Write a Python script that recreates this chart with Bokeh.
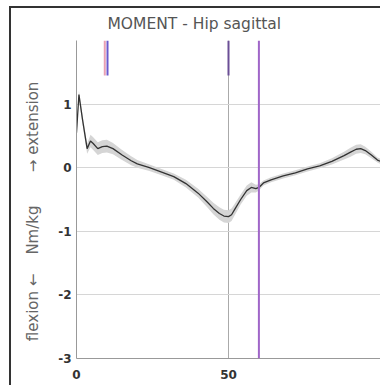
from bokeh.plotting import figure
from bokeh.models import Span, FixedTicker, ColumnDataSource
from bokeh.embed import file_html
from bokeh.resources import INLINE

# Gait cycle (%) and mean hip sagittal moment (Nm/kg) with its spread
pct = [0, 0.8, 2, 3.5, 4.6, 5.5, 7, 8.5, 10, 12, 15, 18, 20, 24, 28, 32, 36, 40,
       43, 45, 47, 48.5, 50, 51, 52, 54, 56, 57.5, 59, 60, 61.5, 64, 68, 72, 76,
       80, 84, 88, 90, 92, 93.5, 95, 97, 99, 100]
moment = [0.55, 1.15, 0.75, 0.30, 0.42, 0.38, 0.30, 0.33, 0.34, 0.30, 0.20, 0.11,
          0.06, 0.00, -0.07, -0.14, -0.25, -0.40, -0.54, -0.64, -0.72, -0.76, -0.77,
          -0.74, -0.66, -0.50, -0.36, -0.31, -0.33, -0.31, -0.24, -0.19, -0.13,
          -0.08, -0.02, 0.03, 0.10, 0.19, 0.24, 0.29, 0.30, 0.27, 0.20, 0.12, 0.10]
spread = [0.05, 0.06, 0.08, 0.08, 0.10, 0.10, 0.10, 0.10, 0.10, 0.09, 0.08, 0.07,
          0.06, 0.05, 0.05, 0.05, 0.06, 0.07, 0.08, 0.09, 0.10, 0.10, 0.10, 0.10,
          0.09, 0.08, 0.08, 0.08, 0.06, 0.05, 0.04, 0.04, 0.04, 0.04, 0.04, 0.04,
          0.05, 0.06, 0.07, 0.07, 0.07, 0.06, 0.05, 0.04, 0.04]

# Gait event markers: (percent, colour, full height?)
event_pct = [9.3, 10.2, 50, 60]
event_color = ["#e8a0b4", "#6a5acd", "#6b4f96", "#a066c8"]
event_full = [False, False, False, True]

x_ticks = [0, 50, 100]
x_tick_labels = ["0", "50", ""]
y_ticks = [-3, -2, -1, 0, 1]
y_tick_labels = ["-3", "-2", "-1", "0", "1"]

src = ColumnDataSource(dict(
    x=pct, y=moment,
    lo=[m - s for m, s in zip(moment, spread)],
    hi=[m + s for m, s in zip(moment, spread)],
))

p = figure(width=371, height=379, x_range=(0, 100), y_range=(-3, 2),
           output_backend="svg", toolbar_location=None,
           min_border_left=65, min_border_right=2, min_border_top=32,
           min_border_bottom=29)
p.margin = (6, 0, 0, 9)
p.styles = {"border-left": "2px solid #333", "border-top": "2px solid #333"}

p.title.text = "MOMENT - Hip sagittal"
p.title.text_font = "DejaVu Sans"
p.title.text_font_size = "15.5px"
p.title.text_font_style = "normal"
p.title.text_color = "#555555"
p.title.align = "left"
p.title.offset = 31
p.title.standoff = 12
p.title.vertical_align = "top"

p.outline_line_color = None
p.background_fill_color = "white"
p.border_fill_color = "white"

p.xaxis.ticker = FixedTicker(ticks=x_ticks)
p.yaxis.ticker = FixedTicker(ticks=y_ticks)
p.xaxis.major_label_overrides = dict(zip(x_ticks, x_tick_labels))
p.yaxis.major_label_overrides = dict(zip(y_ticks, y_tick_labels))
for ax in (p.xaxis[0], p.yaxis[0]):
    ax.axis_line_color = "#999999"
    ax.major_tick_line_color = None
    ax.minor_tick_line_color = None
    ax.major_tick_out = 0
    ax.major_tick_in = 0
    ax.major_label_text_font = "DejaVu Sans"
    ax.major_label_text_font_style = "bold"
    ax.major_label_text_font_size = "12px"
    ax.major_label_text_color = "#333333"
p.xaxis.major_label_standoff = 11
p.yaxis.major_label_standoff = 5

nb = "\u00a0"
p.yaxis.axis_label = ("flexion" + nb + "←" + nb * 4 + "Nm/kg" + nb * 7 + "→" + nb
                      + "extension" + nb * 5)
p.yaxis.axis_label_text_font = "DejaVu Sans"
p.yaxis.axis_label_text_font_size = "15px"
p.yaxis.axis_label_text_font_style = "normal"
p.yaxis.axis_label_text_color = "#666666"
p.yaxis.axis_label_standoff = 13

p.xgrid.grid_line_color = "#aaaaaa"
p.xgrid.grid_line_width = 1
p.ygrid.grid_line_color = "#d6d6d6"

p.varea(x="x", y1="lo", y2="hi", source=src, fill_color="#d5d5d5", fill_alpha=1)
p.line(x="x", y="y", source=src, line_color="#333333", line_width=1.3)

for xp, col, full in zip(event_pct, event_color, event_full):
    if full:
        p.add_layout(Span(location=xp, dimension="height", line_color=col, line_width=2))
    else:
        p.segment(x0=[xp], y0=[2], x1=[xp], y1=[1.45], line_color=col, line_width=2)

open("out.html", "w").write(file_html(p, INLINE))
